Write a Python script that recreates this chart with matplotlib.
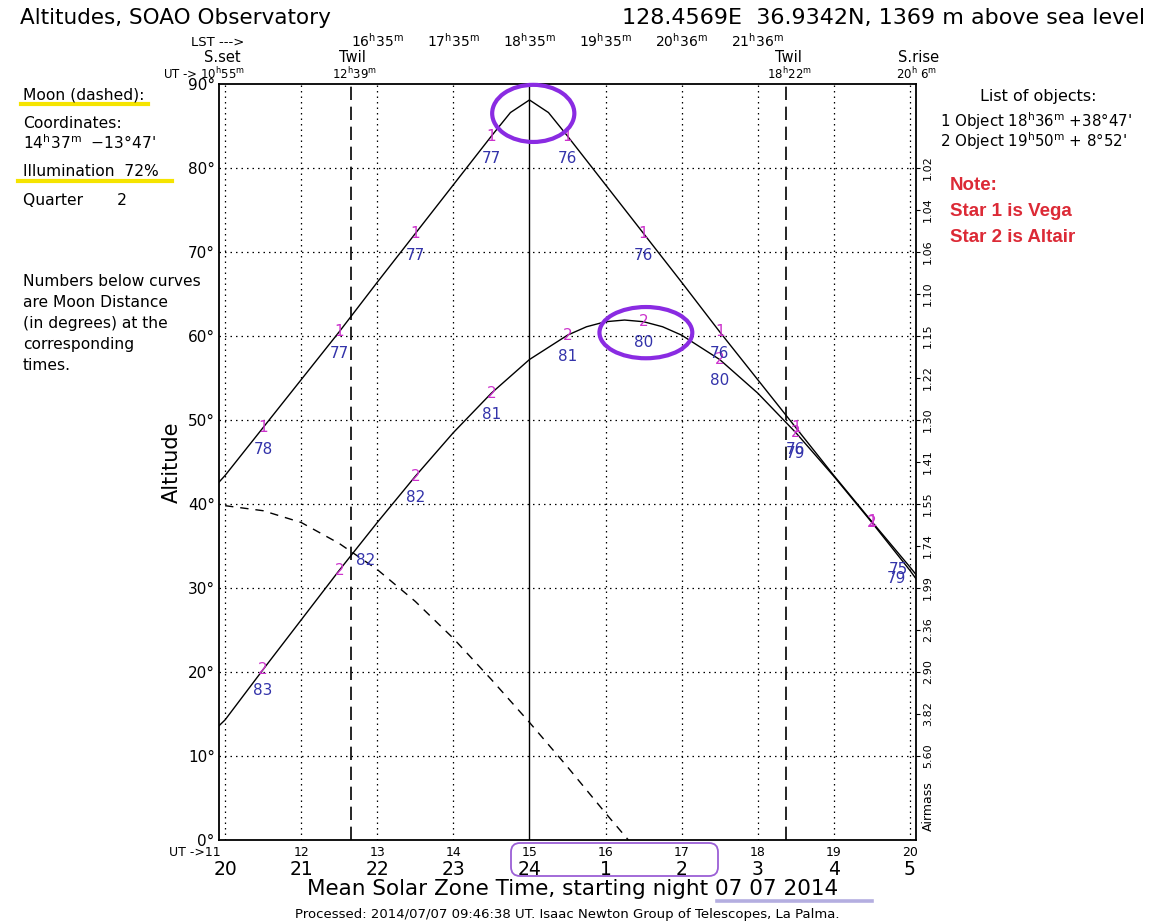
import matplotlib
matplotlib.use("Agg")
import matplotlib.pyplot as plt
from matplotlib.transforms import Affine2D, blended_transform_factory
from matplotlib.patches import Ellipse, FancyBboxPatch
from matplotlib.lines import Line2D
import numpy as np

# ---------------- data ----------------
ut_1 = [10.92, 11.0, 11.5, 12.0, 12.5, 13.0, 13.5, 14.0, 14.5, 14.75, 15.0, 15.25,
        15.5, 16.0, 16.5, 17.0, 17.5, 18.0, 18.5, 19.0, 19.5, 20.0, 20.08]
alt_1 = [42.6, 43.4, 49.1, 54.8, 60.5, 66.4, 72.2, 78.0, 83.8, 86.6, 88.1, 86.6,
         83.8, 78.0, 72.2, 66.4, 60.5, 54.8, 49.1, 43.4, 37.9, 32.5, 31.6]

ut_2 = [10.92, 11.0, 11.5, 12.0, 12.5, 13.0, 13.5, 14.0, 14.5, 15.0, 15.5, 15.75, 16.0,
        16.25, 16.5, 16.75, 17.0, 17.5, 18.0, 18.5, 19.0, 19.5, 20.0, 20.08]
alt_2 = [13.6, 14.3, 20.3, 26.2, 32.1, 37.8, 43.3, 48.5, 53.2, 57.2, 60.1, 61.1, 61.7,
         61.9, 61.7, 61.1, 60.1, 57.2, 53.2, 48.5, 43.3, 37.8, 32.1, 31.1]

ut_moon = [11.0, 11.5, 12.0, 12.5, 13.0, 13.5, 14.0, 14.5, 15.0, 15.5, 16.0, 16.3]
alt_moon = [39.8, 39.2, 37.8, 35.3, 32.2, 28.4, 24.0, 19.1, 14.0, 8.7, 3.2, 0.0]

label_ut = [11.5, 12.5, 13.5, 14.5, 15.5, 16.5, 17.5, 18.5, 19.5]
dist_1 = [78, 77, 77, 77, 76, 76, 76, 76, None]
dist_2 = [83, 82, 82, 81, 81, 80, 80, 79, None]
end_dist_1 = 75
end_dist_2 = 79

ut_hours = [11, 12, 13, 14, 15, 16, 17, 18, 19, 20]
local_hours = ["20", "21", "22", "23", "24", "1", "2", "3", "4", "5"]
lst_ut = [13, 14, 15, 16, 17, 18]
lst_labels = [("16", "35"), ("17", "35"), ("18", "35"), ("19", "35"), ("20", "36"), ("21", "36")]
twil_ut = [12.65, 18.367]
twil_labels = [("12", "39"), ("18", "22")]
midnight_ut = 15
alt_ticks = [0, 10, 20, 30, 40, 50, 60, 70, 80, 90]
airmass_alt = [10, 15, 20, 25, 30, 35, 40, 45, 50, 55, 60, 65, 70, 75, 80]
airmass_labels = ["5.60", "3.82", "2.90", "2.36", "1.99", "1.74", "1.55", "1.41",
                  "1.30", "1.22", "1.15", "1.10", "1.06", "1.04", "1.02"]

# ---------------- figure ----------------
W, H = 1163, 922
fig = plt.figure(figsize=(W / 100, H / 100), dpi=100)
fig.patch.set_facecolor("white")
PX = Affine2D().scale(1.0 / W, -1.0 / H).translate(0, 1) + fig.transFigure

ax_l, ax_r, ax_t, ax_b = 219, 916, 84, 840
ax = fig.add_axes([ax_l / W, 1 - ax_b / H, (ax_r - ax_l) / W, (ax_b - ax_t) / H])
ax.set_xlim(10.92, 20.08)
ax.set_ylim(0, 90)
for s in ax.spines.values():
    s.set_linewidth(1.3)
    s.set_color("black")

# grid
dot = (0, (1.2, 3.2))
for h in ut_hours:
    if h != midnight_ut:
        ax.axvline(h, color="black", lw=0.9, ls=dot, zorder=1)
for a in alt_ticks[1:-1]:
    ax.axhline(a, color="black", lw=0.9, ls=dot, zorder=1)
ax.axvline(midnight_ut, color="black", lw=1.0, zorder=2)
for t in twil_ut:
    ax.axvline(t, color="black", lw=1.2, ls=(0, (8, 4)), zorder=2)

# curves
ax.plot(ut_1, alt_1, color="black", lw=1.0, zorder=3)
ax.plot(ut_2, alt_2, color="black", lw=1.0, zorder=3)
ax.plot(ut_moon, alt_moon, color="black", lw=1.0, ls=(0, (6, 5)), zorder=3)

mag = "#cc33cc"
blu = "#3333aa"
a1 = np.interp(label_ut, ut_1, alt_1)
a2 = np.interp(label_ut, ut_2, alt_2)
for t, y1, y2, d1, d2 in zip(label_ut, a1, a2, dist_1, dist_2):
    ax.text(t, y1, "1", color=mag, fontsize=11, ha="center", va="center", zorder=4)
    ax.text(t, y2, "2", color=mag, fontsize=11, ha="center", va="center", zorder=4)
    if d1 is not None:
        ax.annotate(str(d1), (t, y1), xytext=(0, -22), textcoords="offset pixels",
                    color=blu, fontsize=11, ha="center", va="center", zorder=4)
    if d2 is not None:
        off = (26, 10) if t == 12.5 else (0, -21)
        ax.annotate(str(d2), (t, y2), xytext=off, textcoords="offset pixels",
                    color=blu, fontsize=11, ha="center", va="center", zorder=4)
ax.annotate(str(end_dist_1), (20.0, alt_1[-2]), xytext=(-12, -2), textcoords="offset pixels",
            color=blu, fontsize=11, ha="center", va="center", zorder=4)
ax.annotate(str(end_dist_2), (20.0, alt_2[-2]), xytext=(-13, -8), textcoords="offset pixels",
            color=blu, fontsize=11, ha="center", va="center", zorder=4)

# purple hand-drawn ellipses
purple = "#8a2be2"
ip = int(np.argmax(alt_1))
ax.add_patch(Ellipse((ut_1[ip] + 0.05, alt_1[ip] - 1.6), 1.08, 6.8, fill=False,
                     edgecolor=purple, lw=3.0, clip_on=False, zorder=6))
ax.add_patch(Ellipse((16.53, np.interp(16.5, ut_2, alt_2) - 1.3), 1.22, 6.1, fill=False,
                     edgecolor=purple, lw=3.0, clip_on=False, zorder=6))

# y ticks (altitude)
ax.set_yticks(alt_ticks)
ax.set_yticklabels([f"{a}°" for a in alt_ticks], fontsize=11)
ax.tick_params(axis="y", length=0, pad=3)
ax.set_xticks([])
ax.set_ylabel("Altitude", fontsize=15, labelpad=4)

# right airmass axis
ax2 = ax.twinx()
ax2.set_ylim(0, 90)
ax2.set_yticks(airmass_alt)
ax2.set_yticklabels(airmass_labels, fontsize=8, rotation=90, va="center")
ax2.tick_params(axis="y", length=3, width=0.8, pad=2)
for s in ax2.spines.values():
    s.set_visible(False)
fig.text(928, 806, "Airmass", transform=PX, rotation=90, fontsize=9, ha="center", va="center")

# bottom tick labels
bt = blended_transform_factory(ax.transData, PX)
for h, lh in zip(ut_hours, local_hours):
    if h == ut_hours[0]:
        ax.text(h - 0.06, 852, "UT ->" + str(h), transform=bt, fontsize=9, ha="right", va="center")
    else:
        ax.text(h, 852, str(h), transform=bt, fontsize=9, ha="center", va="center")
    ax.text(h, 869, lh, transform=bt, fontsize=13.5, ha="center", va="center")

fig.text(573, 889, "Mean Solar Zone Time, starting night 07 07 2014", transform=PX,
         fontsize=15.5, ha="center", va="center")
fig.text(567, 914, "Processed: 2014/07/07 09:46:38 UT. Isaac Newton Group of Telescopes, La Palma.",
         transform=PX, fontsize=9.5, ha="center", va="center")
fig.add_artist(Line2D([717, 872], [901, 901], transform=PX, color="#b4aee0", lw=2.6))
fig.add_artist(FancyBboxPatch((511, 843), 207, 33, boxstyle="round,pad=0,rounding_size=9",
                              transform=PX, fill=False, edgecolor="#9b5fd6", lw=1.3))


def hm(h, m):
    return h + r"$^{\rm h}$" + m + r"$^{\rm m}$"


# top header
fig.text(20, 18, "Altitudes, SOAO Observatory", transform=PX, fontsize=15.5, ha="left", va="center")
fig.text(1145, 18, "128.4569E  36.9342N, 1369 m above sea level", transform=PX,
         fontsize=16, ha="right", va="center")
fig.text(218, 42, "LST --->", transform=PX, fontsize=9.5, ha="center", va="center")
for t, (h, m) in zip(lst_ut, lst_labels):
    ax.text(t, 41, hm(h, m), transform=bt, fontsize=10, ha="center", va="center")
fig.text(222, 57, "S.set", transform=PX, fontsize=10.5, ha="center", va="center")
fig.text(245, 74, "UT -> " + hm("10", "55"), transform=PX, fontsize=8.5, ha="right", va="center")
for t, (h, m) in zip(twil_ut, twil_labels):
    ax.text(t + 0.03, 57, "Twil", transform=bt, fontsize=10.5, ha="center", va="center")
    ax.text(t + 0.05, 74, hm(h, m), transform=bt, fontsize=8.5, ha="center", va="center")
fig.text(919, 57, "S.rise", transform=PX, fontsize=10.5, ha="center", va="center")
fig.text(917, 74, "20" + r"$^{\rm h}$" + " 6" + r"$^{\rm m}$", transform=PX, fontsize=8.5,
         ha="center", va="center")

# right side text
fig.text(1038, 96, "List of objects:", transform=PX, fontsize=11.5, ha="center", va="center")
fig.text(940, 121, "1 Object " + hm("18", "36") + " +38°47'", transform=PX, fontsize=10.8,
         ha="left", va="center")
fig.text(940, 141, "2 Object " + hm("19", "50") + " + 8°52'", transform=PX, fontsize=10.8,
         ha="left", va="center")
red = "#dc2a36"
for y, s in [(185, "Note:"), (211, "Star 1 is Vega"), (237, "Star 2 is Altair")]:
    fig.text(950, y, s, transform=PX, fontsize=13.5, fontweight="bold", color=red,
             family="Liberation Sans", ha="left", va="center")

# left side text
left_lines = [
    (95, "Moon (dashed):"),
    (124, "Coordinates:"),
    (143, hm("14", "37") + "  \u221213°47'"),
    (171, "Illumination  72%"),
    (200, "Quarter       2"),
    (281, "Numbers below curves"),
    (302, "are Moon Distance"),
    (323, "(in degrees) at the"),
    (344, "corresponding"),
    (365, "times."),
]
for y, s in left_lines:
    fig.text(23, y, s, transform=PX, fontsize=11.2, ha="left", va="center")
yellow = "#f5e400"
fig.add_artist(Line2D([21, 148], [104, 104], transform=PX, color=yellow, lw=3, zorder=0))
fig.add_artist(Line2D([18, 172], [181, 181], transform=PX, color=yellow, lw=3, zorder=0))

fig.savefig("out.png", dpi=100, facecolor="white")
